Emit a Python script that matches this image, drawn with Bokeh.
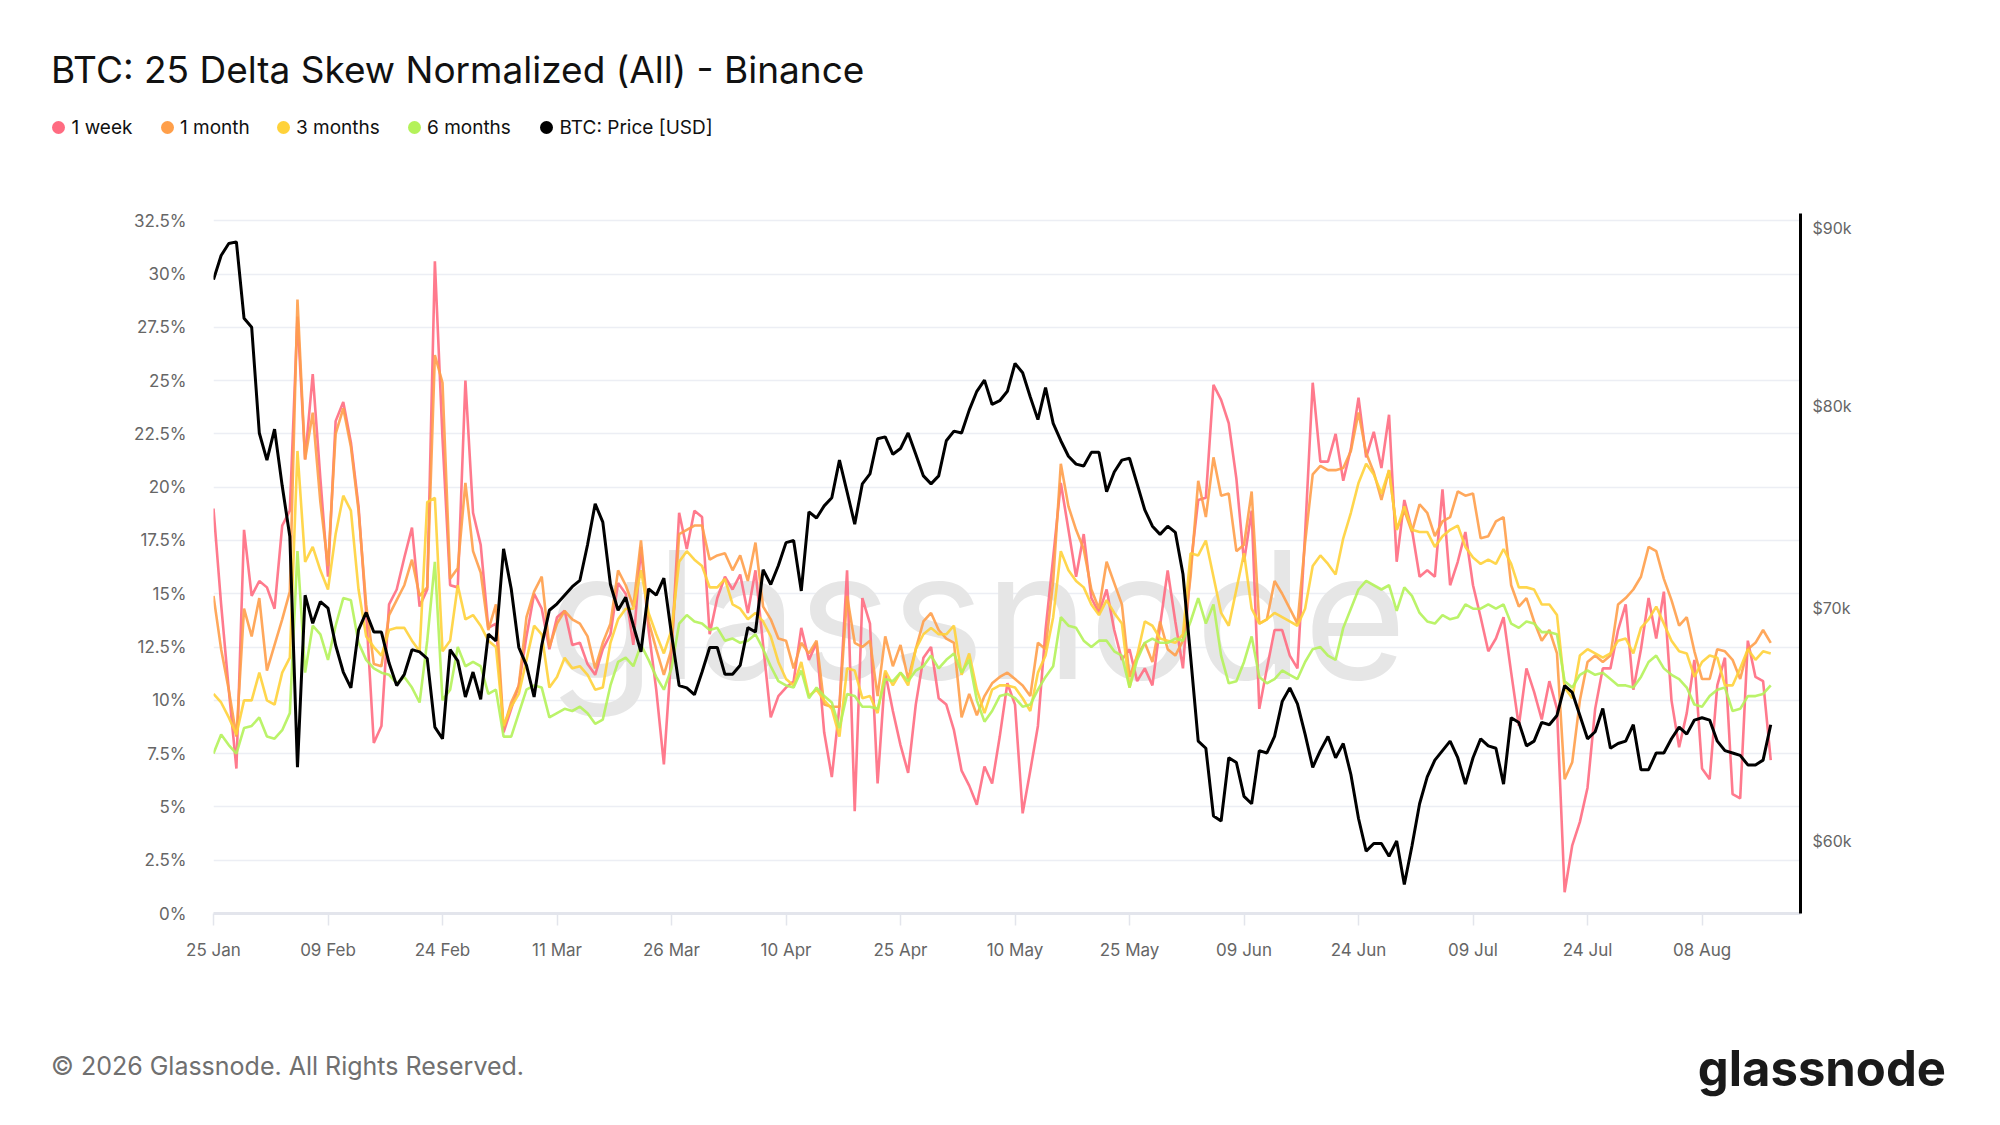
import pandas as pd
from bokeh.plotting import figure
from bokeh.layouts import column
from bokeh.models import (ColumnDataSource, Range1d, LogScale, LogAxis, FixedTicker, Div,
                          PrintfTickFormatter, CustomJSTickFormatter, DatetimeTickFormatter)
from bokeh.core.properties import value
from bokeh.embed import file_html
from bokeh.resources import INLINE

FONT = "Inter"

# daily values from 25 Jan
start_date = "2026-01-25"

week_1 = [
    19.0, 14.5, 10.5, 6.8, 18.0, 14.9, 15.6, 15.3, 14.3, 18.2,
    18.9, 28.0, 21.3, 25.3, 20.4, 15.8, 23.1, 24.0, 22.1, 19.1,
    14.1, 8.0, 8.8, 14.5, 15.2, 16.7, 18.1, 14.4, 15.2, 30.6,
    22.3, 15.4, 15.3, 25.0, 18.8, 17.3, 13.4, 13.6, 8.5, 9.6,
    10.7, 13.0, 15.0, 14.3, 12.4, 13.9, 14.2, 12.6, 12.7, 11.7,
    11.2, 12.4, 13.1, 15.5, 15.0, 12.6, 17.2, 13.3, 10.5, 7.0,
    12.3, 18.8, 17.1, 18.9, 18.6, 13.1, 14.8, 15.8, 15.2, 15.9,
    14.1, 16.1, 12.6, 9.2, 10.2, 10.6, 10.9, 13.4, 11.9, 12.7,
    8.5, 6.4, 9.7, 16.1, 4.8, 14.8, 13.6, 6.1, 11.3, 9.5,
    7.9, 6.6, 9.8, 12.0, 12.5, 10.1, 9.8, 8.6, 6.7, 6.0,
    5.1, 6.9, 6.1, 8.3, 10.8, 9.8, 4.7, 6.7, 8.8, 13.3,
    16.7, 20.2, 18.0, 15.8, 17.8, 14.8, 14.1, 15.2, 13.3, 11.9,
    12.4, 10.9, 11.5, 10.7, 13.5, 16.1, 13.7, 11.5, 16.3, 19.4,
    19.5, 24.8, 24.1, 23.0, 20.4, 16.5, 18.9, 9.6, 11.5, 13.3,
    13.3, 12.1, 11.5, 17.8, 24.9, 21.2, 21.2, 22.5, 20.3, 21.8,
    24.2, 21.4, 22.6, 20.9, 23.4, 16.5, 19.4, 18.0, 15.8, 16.1,
    15.8, 19.9, 15.4, 16.5, 17.9, 15.4, 13.9, 12.3, 12.9, 13.9,
    11.3, 8.8, 11.5, 10.4, 9.1, 10.9, 9.6, 1.0, 3.2, 4.3,
    5.9, 9.6, 11.5, 11.5, 13.3, 14.5, 10.5, 12.4, 14.8, 12.9,
    15.1, 10.0, 7.8, 9.4, 11.9, 6.8, 6.3, 10.7, 12.0, 5.6,
    5.4, 12.8, 11.1, 10.9, 7.2,
]

month_1 = [
    14.9, 12.4, 10.5, 8.3, 14.3, 13.0, 14.8, 11.4, 12.6, 13.8,
    15.1, 28.8, 21.3, 23.5, 19.3, 16.3, 22.5, 23.7, 21.9, 18.9,
    14.5, 11.7, 11.6, 14.0, 14.7, 15.4, 16.6, 14.9, 15.3, 26.2,
    24.9, 15.7, 16.2, 20.2, 17.0, 16.0, 13.3, 14.5, 8.7, 9.9,
    10.7, 13.9, 15.1, 15.8, 12.5, 13.6, 14.2, 13.8, 13.6, 13.0,
    11.5, 12.7, 13.6, 16.1, 15.4, 14.4, 17.5, 13.7, 12.4, 11.2,
    12.4, 17.8, 18.0, 18.2, 18.2, 16.6, 16.8, 16.9, 16.1, 16.8,
    15.6, 17.4, 14.4, 13.8, 12.9, 12.8, 11.5, 12.7, 12.2, 12.8,
    9.8, 9.7, 9.7, 14.9, 12.7, 12.5, 12.8, 10.2, 13.0, 11.6,
    12.6, 11.0, 12.4, 13.7, 14.1, 13.3, 12.9, 12.7, 9.2, 10.3,
    9.3, 10.2, 10.8, 11.1, 11.3, 11.0, 10.7, 10.2, 12.7, 12.4,
    15.6, 21.1, 19.1, 18.0, 17.1, 15.2, 14.3, 16.5, 15.5, 14.5,
    11.1, 12.1, 12.7, 11.8, 13.7, 12.4, 12.1, 12.8, 15.8, 20.3,
    18.6, 21.4, 19.6, 19.7, 17.0, 17.3, 19.8, 13.6, 13.8, 15.6,
    15.0, 14.3, 13.6, 17.4, 20.6, 21.0, 20.8, 20.8, 20.9, 21.7,
    23.5, 21.6, 20.7, 19.4, 20.8, 18.0, 18.9, 17.9, 19.2, 18.8,
    17.7, 18.4, 18.6, 19.8, 19.6, 19.7, 17.6, 17.7, 18.4, 18.6,
    15.4, 14.4, 14.8, 13.7, 12.8, 13.3, 12.2, 6.3, 7.1, 10.0,
    11.8, 12.1, 11.8, 12.1, 14.5, 14.8, 15.2, 15.8, 17.2, 17.0,
    15.7, 14.7, 13.5, 13.9, 12.3, 11.0, 11.0, 12.4, 12.3, 11.9,
    11.0, 12.4, 12.7, 13.3, 12.7,
]

months_3 = [
    10.3, 9.9, 9.2, 8.4, 10.0, 10.0, 11.3, 10.0, 9.8, 11.3,
    12.0, 21.7, 16.5, 17.2, 16.1, 15.2, 17.8, 19.6, 18.9, 15.2,
    13.0, 12.5, 12.1, 13.3, 13.4, 13.4, 12.8, 12.3, 19.3, 19.5,
    12.3, 12.8, 15.4, 13.8, 14.0, 13.5, 12.8, 12.5, 8.8, 9.7,
    10.3, 11.9, 13.5, 13.1, 10.6, 11.1, 12.0, 11.5, 11.6, 11.2,
    10.5, 10.6, 12.7, 13.8, 14.3, 14.3, 16.1, 14.1, 13.1, 12.2,
    13.3, 16.5, 17.0, 16.6, 16.3, 15.3, 15.3, 15.7, 14.5, 14.3,
    13.8, 14.1, 13.7, 13.0, 11.8, 11.0, 10.7, 11.8, 10.2, 10.5,
    10.0, 9.6, 8.3, 11.5, 11.4, 10.1, 10.2, 9.4, 11.4, 10.7,
    11.3, 10.7, 12.4, 13.1, 13.4, 13.1, 13.1, 13.5, 11.2, 12.2,
    10.5, 9.4, 10.5, 10.7, 10.7, 10.6, 10.1, 9.5, 11.3, 12.1,
    13.9, 17.0, 16.1, 15.6, 15.3, 14.5, 14.0, 14.7, 14.1, 13.6,
    10.6, 12.1, 13.7, 13.5, 12.9, 12.8, 12.7, 13.1, 16.9, 16.8,
    17.5, 15.8, 14.1, 13.5, 15.2, 16.9, 14.3, 13.6, 13.8, 14.1,
    13.9, 13.7, 13.5, 14.3, 16.3, 16.8, 16.4, 15.9, 17.6, 18.8,
    20.2, 21.1, 20.6, 19.7, 20.8, 18.0, 19.1, 18.0, 17.9, 17.9,
    17.2, 17.7, 18.0, 18.2, 17.2, 16.7, 16.4, 16.6, 16.4, 17.1,
    16.4, 15.3, 15.3, 15.2, 14.5, 14.5, 14.0, 10.6, 10.1, 12.1,
    12.4, 12.2, 12.0, 12.2, 12.8, 12.9, 12.2, 13.4, 13.8, 14.4,
    13.6, 12.8, 12.3, 12.2, 11.1, 11.8, 12.1, 12.0, 10.7, 10.7,
    11.5, 12.4, 11.9, 12.3, 12.2,
]

months_6 = [
    7.5, 8.4, 7.9, 7.5, 8.7, 8.8, 9.2, 8.3, 8.2, 8.6,
    9.4, 17.0, 11.3, 13.5, 13.1, 11.9, 13.5, 14.8, 14.7, 12.7,
    11.9, 11.5, 11.3, 11.2, 10.8, 11.1, 10.6, 9.9, 12.8, 16.5,
    10.0, 10.5, 12.5, 11.6, 11.8, 11.6, 10.3, 10.5, 8.3, 8.3,
    9.4, 10.5, 10.7, 10.6, 9.2, 9.4, 9.6, 9.5, 9.7, 9.4,
    8.9, 9.1, 10.7, 11.8, 12.0, 11.6, 12.6, 11.9, 11.1, 10.5,
    11.5, 13.6, 14.0, 13.7, 13.6, 13.3, 13.4, 12.8, 12.9, 12.7,
    12.8, 13.1, 12.4, 11.6, 10.9, 10.7, 10.6, 11.4, 10.1, 10.6,
    10.2, 9.9, 8.7, 10.3, 10.2, 9.7, 9.7, 9.6, 11.0, 10.9,
    11.3, 10.9, 11.4, 11.6, 12.1, 11.5, 11.9, 12.2, 11.3, 11.9,
    10.0, 9.0, 9.5, 10.2, 10.3, 10.1, 9.7, 9.8, 10.5, 11.1,
    11.6, 13.9, 13.5, 13.4, 12.8, 12.5, 12.8, 12.8, 12.3, 12.1,
    10.6, 11.9, 12.7, 12.9, 12.7, 12.7, 12.9, 12.8, 13.7, 14.8,
    13.6, 14.5, 12.1, 10.8, 10.9, 11.8, 13.0, 11.1, 10.8, 11.0,
    11.4, 11.2, 11.0, 11.8, 12.4, 12.5, 12.1, 11.9, 13.4, 14.3,
    15.2, 15.6, 15.4, 15.2, 15.4, 14.2, 15.3, 14.9, 14.1, 13.7,
    13.6, 14.0, 13.8, 13.9, 14.5, 14.3, 14.3, 14.5, 14.3, 14.5,
    13.6, 13.4, 13.7, 13.6, 13.2, 13.2, 13.1, 10.9, 10.6, 11.2,
    11.4, 11.2, 11.3, 11.0, 10.7, 10.7, 10.6, 11.1, 11.8, 12.1,
    11.5, 11.2, 11.0, 10.6, 9.8, 9.7, 10.2, 10.5, 10.6, 9.5,
    9.6, 10.2, 10.2, 10.3, 10.7,
]

btc_price_k = [
    87.0, 88.4, 89.1, 89.2, 84.8, 84.3, 78.6, 77.2, 78.8, 75.9,
    73.4, 63.0, 70.6, 69.3, 70.3, 70.0, 68.3, 67.1, 66.4, 69.0,
    69.8, 68.9, 68.9, 67.5, 66.5, 67.0, 68.1, 68.0, 67.7, 64.7,
    64.2, 68.1, 67.6, 66.0, 67.1, 65.9, 68.8, 68.5, 72.8, 70.9,
    68.2, 67.4, 66.0, 68.3, 69.9, 70.2, 70.6, 71.0, 71.3, 73.0,
    75.0, 74.1, 71.1, 69.9, 70.5, 69.2, 68.0, 70.9, 70.6, 71.4,
    68.8, 66.5, 66.4, 66.1, 67.1, 68.2, 68.2, 67.0, 67.0, 67.4,
    69.1, 68.9, 71.8, 71.1, 72.0, 73.1, 73.2, 70.8, 74.6, 74.3,
    74.9, 75.3, 77.2, 75.6, 74.0, 76.0, 76.5, 78.3, 78.4, 77.5,
    77.8, 78.6, 77.5, 76.4, 76.0, 76.4, 78.2, 78.7, 78.6, 79.8,
    80.8, 81.4, 80.1, 80.3, 80.8, 82.3, 81.8, 80.5, 79.3, 81.0,
    79.1, 78.2, 77.4, 77.0, 76.9, 77.6, 77.6, 75.6, 76.6, 77.2,
    77.3, 76.0, 74.7, 73.9, 73.5, 73.9, 73.6, 71.6, 67.8, 64.1,
    63.8, 61.0, 60.8, 63.4, 63.2, 61.8, 61.5, 63.7, 63.6, 64.3,
    65.8, 66.4, 65.7, 64.4, 63.0, 63.7, 64.3, 63.4, 64.0, 62.7,
    60.9, 59.6, 59.9, 59.9, 59.4, 60.0, 58.3, 59.8, 61.5, 62.6,
    63.3, 63.7, 64.1, 63.4, 62.3, 63.4, 64.2, 63.9, 63.8, 62.3,
    65.1, 64.9, 63.9, 64.1, 64.9, 64.8, 65.2, 66.5, 66.2, 65.2,
    64.2, 64.5, 65.5, 63.8, 64.0, 64.1, 64.8, 62.9, 62.9, 63.6,
    63.6, 64.2, 64.7, 64.4, 65.0, 65.1, 65.0, 64.1, 63.7, 63.6,
    63.5, 63.1, 63.1, 63.3, 64.8,
]

pct_ticks = [0, 2.5, 5, 7.5, 10, 12.5, 15, 17.5, 20, 22.5, 25, 27.5, 30, 32.5]
price_ticks_k = [60, 70, 80, 90]
date_ticks = ["2026-01-25", "2026-02-09", "2026-02-24", "2026-03-11", "2026-03-26",
              "2026-04-10", "2026-04-25", "2026-05-10", "2026-05-25", "2026-06-09",
              "2026-06-24", "2026-07-09", "2026-07-24", "2026-08-08"]

series_names = ["1 week", "1 month", "3 months", "6 months", "BTC: Price [USD]"]
series_cols = ["w1", "m1", "m3", "m6"]
series_colors = ["#ff6b81", "#ff9f4a", "#ffd23a", "#b4f25a", "#000000"]

W = 2000
HEAD_H, MAIN_H, FOOT_H = 193, 807, 125

dates = pd.date_range(start_date, periods=len(btc_price_k), freq="D")
source = ColumnDataSource(dict(date=dates, w1=week_1, m1=month_1, m3=months_3,
                               m6=months_6, price=btc_price_k))

# header: title and legend (html, absolutely positioned)
legend_x = [58.6, 167, 283, 414, 546.5]
parts = [f'<div style="position:absolute;left:51px;top:51px;font-size:37px;line-height:1;'
         f'color:#111;white-space:nowrap">BTC: 25 Delta Skew Normalized (All) - Binance</div>']
for lx, name, color in zip(legend_x, series_names, series_colors):
    parts.append(f'<div style="position:absolute;left:{lx - 6.5}px;top:121px;width:13px;'
                 f'height:13px;border-radius:50%;background:{color}"></div>')
    parts.append(f'<div style="position:absolute;left:{lx + 13}px;top:118px;font-size:19px;'
                 f'line-height:1;color:#111;white-space:nowrap">{name}</div>')
head = Div(text=f'<div style="position:relative;width:{W}px;height:{HEAD_H}px;'
                f'font-family:{FONT}">' + "".join(parts) + "</div>",
           width=W, height=HEAD_H, margin=0)

# main chart
p = figure(width=W, height=MAIN_H, x_axis_type="datetime",
           x_range=Range1d(dates[0], dates[0] + pd.Timedelta(hours=207.9 * 24)),
           y_range=Range1d(0, 32.84),
           output_backend="svg", toolbar_location=None, tools="",
           min_border_left=213, min_border_right=200, min_border_top=20, min_border_bottom=87)
p.outline_line_color = None
p.extra_y_ranges = {"price": Range1d(57.19, 90.89)}
p.extra_y_scales = {"price": LogScale()}

# watermark
p.text(x=[dates[100]], y=[14.0], text=["glassnode"], text_font=value(FONT),
       text_font_size="177px", text_color="#e6e6e6", text_align="center",
       text_baseline="alphabetic")

for col, color in zip(series_cols, series_colors):
    p.line("date", col, source=source, line_color=color, line_width=2.6, line_alpha=0.9)
p.line("date", "price", source=source, y_range_name="price", line_color="black", line_width=3)

xax = p.xaxis[0]
xax.ticker = FixedTicker(ticks=[pd.Timestamp(d).value // 10**6 for d in date_ticks])
xax.formatter = DatetimeTickFormatter(days="%d %b", months="%d %b", hours="%d %b")
xax.axis_line_color = "#e3e5ec"
xax.axis_line_width = 3
xax.major_tick_line_color = "#e3e5ec"
xax.major_tick_line_width = 1.5
xax.major_tick_out = 12
xax.major_tick_in = 0
xax.minor_tick_line_color = None
xax.major_label_text_font = FONT
xax.major_label_text_font_size = "17px"
xax.major_label_text_color = "#666666"
xax.major_label_standoff = 14
p.xgrid.visible = False

yax = p.yaxis[0]
yax.ticker = FixedTicker(ticks=pct_ticks)
yax.formatter = CustomJSTickFormatter(code="return tick + '%';")
yax.axis_line_color = None
yax.major_tick_line_color = None
yax.minor_tick_line_color = None
yax.major_tick_out = 0
yax.major_label_standoff = 27
yax.major_label_text_font = FONT
yax.major_label_text_font_size = "17px"
yax.major_label_text_color = "#666666"
p.ygrid.ticker = yax.ticker
p.ygrid.grid_line_color = "#eceef4"
p.ygrid.grid_line_width = 1.5

rax = LogAxis(y_range_name="price", ticker=FixedTicker(ticks=price_ticks_k),
              formatter=PrintfTickFormatter(format="$%dk"))
rax.axis_line_color = "black"
rax.axis_line_width = 3
rax.major_tick_line_color = None
rax.minor_tick_line_color = None
rax.major_tick_out = 0
rax.major_label_standoff = 12
rax.major_label_text_font = FONT
rax.major_label_text_font_size = "16px"
rax.major_label_text_color = "#666666"
p.add_layout(rax, "right")

# footer
foot = Div(text=f'<div style="position:relative;width:{W}px;height:{FOOT_H}px;font-family:{FONT}">'
                f'<div style="position:absolute;left:51px;top:54px;font-size:25px;line-height:1;'
                f'color:#707070;white-space:nowrap">© 2026 Glassnode. All Rights Reserved.</div>'
                f'<div style="position:absolute;right:54px;top:44px;font-size:49px;line-height:1;'
                f'font-weight:bold;color:#1a1a1a;white-space:nowrap">glassnode</div></div>',
           width=W, height=FOOT_H, margin=0)

layout = column(head, p, foot, spacing=0)
open("out.html", "w").write(file_html(layout, INLINE))
